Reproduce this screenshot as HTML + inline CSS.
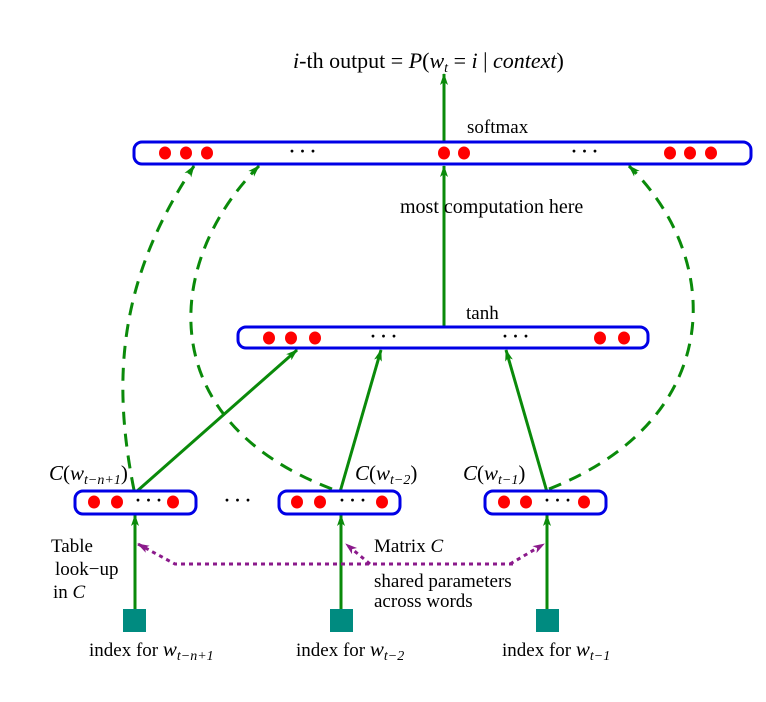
<!DOCTYPE html>
<html><head><meta charset="utf-8"><style>
body{margin:0;background:#fff}
svg{display:block;font-family:"Liberation Serif",serif}
text{font-size:19px;fill:#000}
.i{font-style:italic}
.d{font-size:18px;font-weight:bold}
</style></head><body>
<svg width="766" height="702" viewBox="0 0 766 702" xmlns="http://www.w3.org/2000/svg">
<defs>
<marker id="g" markerWidth="12" markerHeight="12" refX="11" refY="6" orient="auto" markerUnits="userSpaceOnUse"><path d="M0,2 L12,6 L0,10 L3,6 Z" fill="#0a8a0a"/></marker>
<marker id="p" markerWidth="12" markerHeight="12" refX="11" refY="6" orient="auto" markerUnits="userSpaceOnUse"><path d="M0,2 L12,6 L0,10 L3,6 Z" fill="#8b1a8b"/></marker>
</defs>
<g stroke="#0a8a0a" stroke-width="3" fill="none">
<path d="M134,490 C112,380 118,280 194,166" stroke-dasharray="13,9" marker-end="url(#g)"/>
<path d="M332,489 C150,420 165,260 259,166" stroke-dasharray="13,9" marker-end="url(#g)"/>
<path d="M549,489 C725,420 725,260 629,166" stroke-dasharray="13,9" marker-end="url(#g)"/>
<line x1="444" y1="142" x2="444" y2="74" marker-end="url(#g)"/>
<line x1="444" y1="327" x2="444" y2="166" marker-end="url(#g)"/>
<line x1="136" y1="492" x2="297" y2="350" marker-end="url(#g)"/>
<line x1="340" y1="492" x2="381" y2="350" marker-end="url(#g)"/>
<line x1="547" y1="492" x2="506" y2="350" marker-end="url(#g)"/>
<line x1="135" y1="609" x2="135" y2="515" marker-end="url(#g)"/>
<line x1="341" y1="609" x2="341" y2="515" marker-end="url(#g)"/>
<line x1="547" y1="609" x2="547" y2="515" marker-end="url(#g)"/>
</g>
<g stroke="#8b1a8b" stroke-width="3" fill="none" stroke-dasharray="4,4">
<polyline points="513,564 175,564 138,544" marker-end="url(#p)"/>
<polyline points="370,564 346,544" marker-end="url(#p)"/>
<polyline points="510,564 544,544" marker-end="url(#p)"/>
</g>
<g stroke="#0000e6" stroke-width="3" fill="#fff">
<rect x="134" y="142" width="617" height="22" rx="8"/>
<rect x="238" y="327" width="410" height="21" rx="8"/>
<rect x="75" y="491" width="121" height="23" rx="8"/>
<rect x="279" y="491" width="121" height="23" rx="8"/>
<rect x="485" y="491" width="121" height="23" rx="8"/>
</g>
<g fill="#f00">
<ellipse cx="165" cy="153" rx="6" ry="6.5"/><ellipse cx="186" cy="153" rx="6" ry="6.5"/><ellipse cx="207" cy="153" rx="6" ry="6.5"/>
<ellipse cx="444" cy="153" rx="6" ry="6.5"/><ellipse cx="464" cy="153" rx="6" ry="6.5"/>
<ellipse cx="670" cy="153" rx="6" ry="6.5"/><ellipse cx="690" cy="153" rx="6" ry="6.5"/><ellipse cx="711" cy="153" rx="6" ry="6.5"/>
<ellipse cx="269" cy="338" rx="6" ry="6.5"/><ellipse cx="291" cy="338" rx="6" ry="6.5"/><ellipse cx="315" cy="338" rx="6" ry="6.5"/>
<ellipse cx="600" cy="338" rx="6" ry="6.5"/><ellipse cx="624" cy="338" rx="6" ry="6.5"/>
<ellipse cx="94" cy="502" rx="6" ry="6.5"/><ellipse cx="117" cy="502" rx="6" ry="6.5"/><ellipse cx="173" cy="502" rx="6" ry="6.5"/>
<ellipse cx="297" cy="502" rx="6" ry="6.5"/><ellipse cx="320" cy="502" rx="6" ry="6.5"/><ellipse cx="382" cy="502" rx="6" ry="6.5"/>
<ellipse cx="504" cy="502" rx="6" ry="6.5"/><ellipse cx="526" cy="502" rx="6" ry="6.5"/><ellipse cx="584" cy="502" rx="6" ry="6.5"/>
</g>
<g fill="#008b80">
<rect x="123" y="609" width="23" height="23"/><rect x="330" y="609" width="23" height="23"/><rect x="536" y="609" width="23" height="23"/>
</g>
<g>
<text class="d" x="289" y="157">· · ·</text>
<text class="d" x="571" y="157">· · ·</text>
<text class="d" x="370" y="342">· · ·</text>
<text class="d" x="502" y="342">· · ·</text>
<text class="d" x="135" y="506">· · ·</text>
<text class="d" x="339" y="506">· · ·</text>
<text class="d" x="544" y="506">· · ·</text>
<text class="d" x="224" y="506">· · ·</text>
</g>
<text x="293" y="68" style="font-size:22px"><tspan class="i">i</tspan>-th output = <tspan class="i">P</tspan>(<tspan class="i">w</tspan><tspan class="i" style="font-size:14px" dy="4">t</tspan><tspan dy="-4">  =  </tspan><tspan class="i">i</tspan> | <tspan class="i">context</tspan>)</text>
<text x="467" y="133">softmax</text>
<text x="400" y="213" style="font-size:20px">most  computation here</text>
<text x="466" y="319">tanh</text>
<text x="49" y="480" style="font-size:21px"><tspan class="i">C</tspan>(<tspan class="i">w</tspan><tspan class="i" style="font-size:14px" dy="4">t−n+1</tspan><tspan dy="-4">)</tspan></text>
<text x="355" y="480" style="font-size:21px"><tspan class="i">C</tspan>(<tspan class="i">w</tspan><tspan class="i" style="font-size:14px" dy="4">t−2</tspan><tspan dy="-4">)</tspan></text>
<text x="463" y="480" style="font-size:21px"><tspan class="i">C</tspan>(<tspan class="i">w</tspan><tspan class="i" style="font-size:14px" dy="4">t−1</tspan><tspan dy="-4">)</tspan></text>
<text x="51" y="552">Table</text>
<text x="55" y="575">look−up</text>
<text x="53" y="598">in <tspan class="i">C</tspan></text>
<text x="374" y="552">Matrix <tspan class="i">C</tspan></text>
<text x="374" y="587">shared parameters</text>
<text x="374" y="607">across words</text>
<text x="89" y="656">index for <tspan class="i" style="font-size:21px">w</tspan><tspan class="i" style="font-size:14px" dy="4">t−n+1</tspan></text>
<text x="296" y="656">index for <tspan class="i" style="font-size:21px">w</tspan><tspan class="i" style="font-size:14px" dy="4">t−2</tspan></text>
<text x="502" y="656">index for <tspan class="i" style="font-size:21px">w</tspan><tspan class="i" style="font-size:14px" dy="4">t−1</tspan></text>
</svg>
</body></html>
